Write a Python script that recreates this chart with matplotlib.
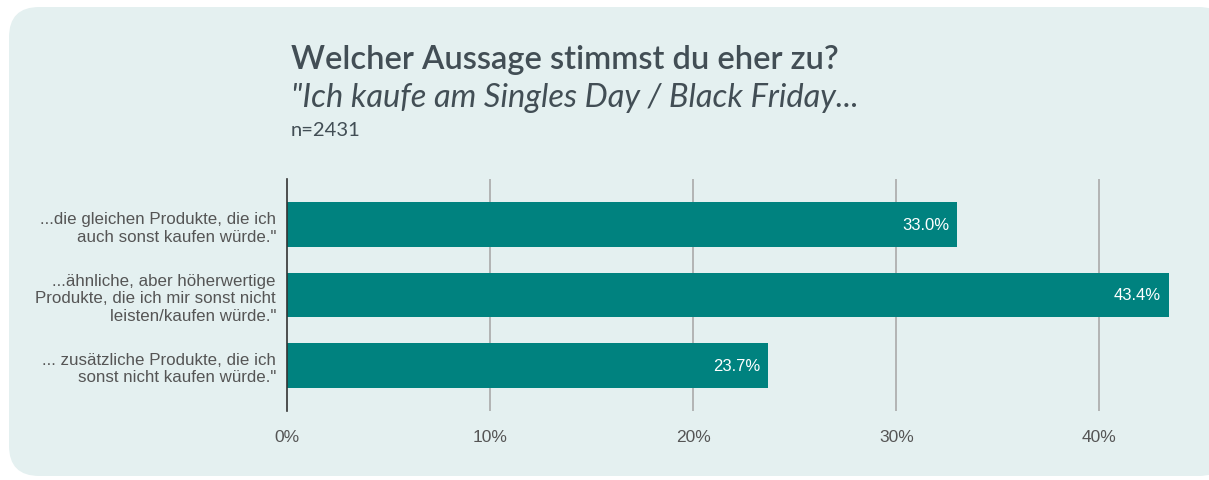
import matplotlib
matplotlib.use("Agg")
import matplotlib.pyplot as plt
from matplotlib.patches import FancyBboxPatch

categories = [
    '...die gleichen Produkte, die ich\nauch sonst kaufen würde."',
    '...ähnliche, aber höherwertige\nProdukte, die ich mir sonst nicht\nleisten/kaufen würde."',
    '... zusätzliche Produkte, die ich\nsonst nicht kaufen würde."',
]
values = [33.0, 43.4, 23.7]
xticks = [0, 10, 20, 30, 40]
xticklabels = ["0%", "10%", "20%", "30%", "40%"]

W, H = 1209, 481
fig = plt.figure(figsize=(W / 100, H / 100), dpi=100)
fig.patch.set_facecolor("white")

bg = FancyBboxPatch((9 / W, 4 / H), (W - 9 + 20) / W, (H - 4 - 8) / H,
                    boxstyle="round,pad=0,rounding_size=0.025",
                    transform=fig.transFigure, facecolor="#E4F0F0",
                    edgecolor="none", mutation_aspect=W / H, zorder=-10)
fig.patches.append(bg)

ax = fig.add_axes([287 / W, (H - 412) / H, (1201 - 287) / W, (412 - 180) / H])
ax.set_zorder(2)
ax.set_facecolor("none")
ypos = list(range(len(values)))
bars = ax.barh(ypos, values, height=0.64, color="#00827F", zorder=3)
ax.set_xlim(0, 45)
ax.set_ylim(2.65, -0.65)
ax.set_xticks(xticks)
ax.set_xticklabels(xticklabels, fontsize=12.5, color="#555555", family="Liberation Sans")
ax.set_yticks(ypos)
ax.set_yticklabels(categories, fontsize=12.2, color="#555555", family="Liberation Sans",
                   linespacing=1.2)
ax.tick_params(axis="both", length=0)
ax.tick_params(axis="x", pad=13)
ax.tick_params(axis="y", pad=8)
for s in ["top", "right", "bottom"]:
    ax.spines[s].set_visible(False)
ax.spines["left"].set_color("#333333")
ax.spines["left"].set_linewidth(1.2)
ax.spines["left"].set_zorder(4)
for t in xticks[1:]:
    ax.axvline(t, color="#AAAAAA", linewidth=1.2, zorder=1)

for b, v in zip(bars, values):
    ax.text(v - 0.4, b.get_y() + b.get_height() / 2, f"{v:.1f}%",
            ha="right", va="center", color="white", fontsize=12,
            family="Liberation Sans", zorder=5)

fig.text(291 / W, 1 - 60 / H, "Welcher Aussage stimmst du eher zu?",
         fontsize=23.5, fontweight="semibold", color="#424E55", family="Lato",
         va="center")
fig.text(291 / W, 1 - 98 / H, '"Ich kaufe am Singles Day / Black Friday...',
         fontsize=23.5, fontstyle="italic", color="#424E55",
         family="Lato", va="center")
fig.text(291 / W, 1 - 131 / H, "n=2431",
         fontsize=14.5, color="#424E55", family="Lato", va="center")

fig.savefig("out.png", dpi=100, facecolor=fig.get_facecolor())
